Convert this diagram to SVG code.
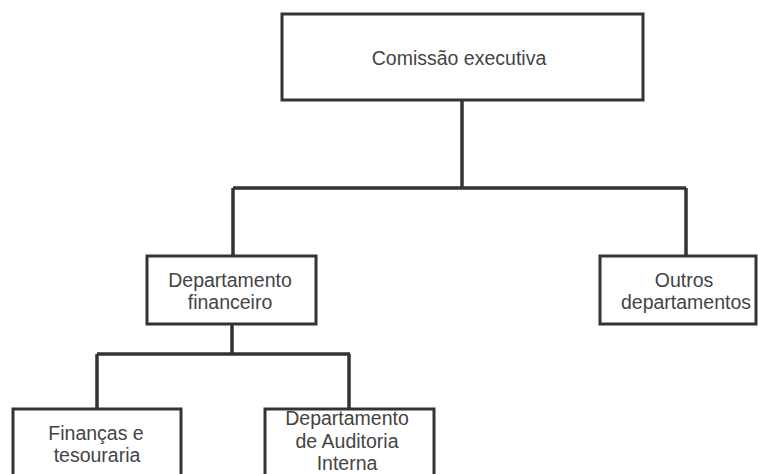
<svg xmlns="http://www.w3.org/2000/svg" width="758" height="474" viewBox="0 0 758 474">
<style>
.box{fill:#fff;stroke:#333;stroke-width:3}
.ln{fill:none;stroke:#333;stroke-width:3.5}
text{font-family:"Liberation Sans",Arial,sans-serif;font-size:19.5px;fill:#444;text-anchor:middle}
</style>
<rect width="758" height="474" fill="#fff"/>
<g id="connectors">
<path class="ln" d="M462 100V188M233 188H686M233 188V256M686 188V256"/>
<path class="ln" d="M232 324V354M97 354H350M97 354V409M349 354V409"/>
</g>
<g id="comissao">
<rect class="box" x="282" y="14" width="361" height="86"/>
<text x="459" y="65">Comissão executiva</text>
</g>
<g id="dep-financeiro">
<rect class="box" x="147" y="256" width="169" height="68"/>
<text x="230" y="286.5">Departamento</text>
<text x="230" y="308.5">financeiro</text>
</g>
<g id="outros">
<rect class="box" x="600" y="256" width="156" height="68"/>
<text x="684" y="286.5">Outros</text>
<text x="686" y="308.5">departamentos</text>
</g>
<g id="financas">
<rect class="box" x="13" y="409" width="168" height="70"/>
<text x="96" y="440">Finanças e</text>
<text x="97" y="462">tesouraria</text>
</g>
<g id="auditoria">
<rect class="box" x="265" y="409" width="169" height="70"/>
<text x="347" y="425">Departamento</text>
<text x="347" y="448">de Auditoria</text>
<text x="347" y="470">Interna</text>
</g>
</svg>
